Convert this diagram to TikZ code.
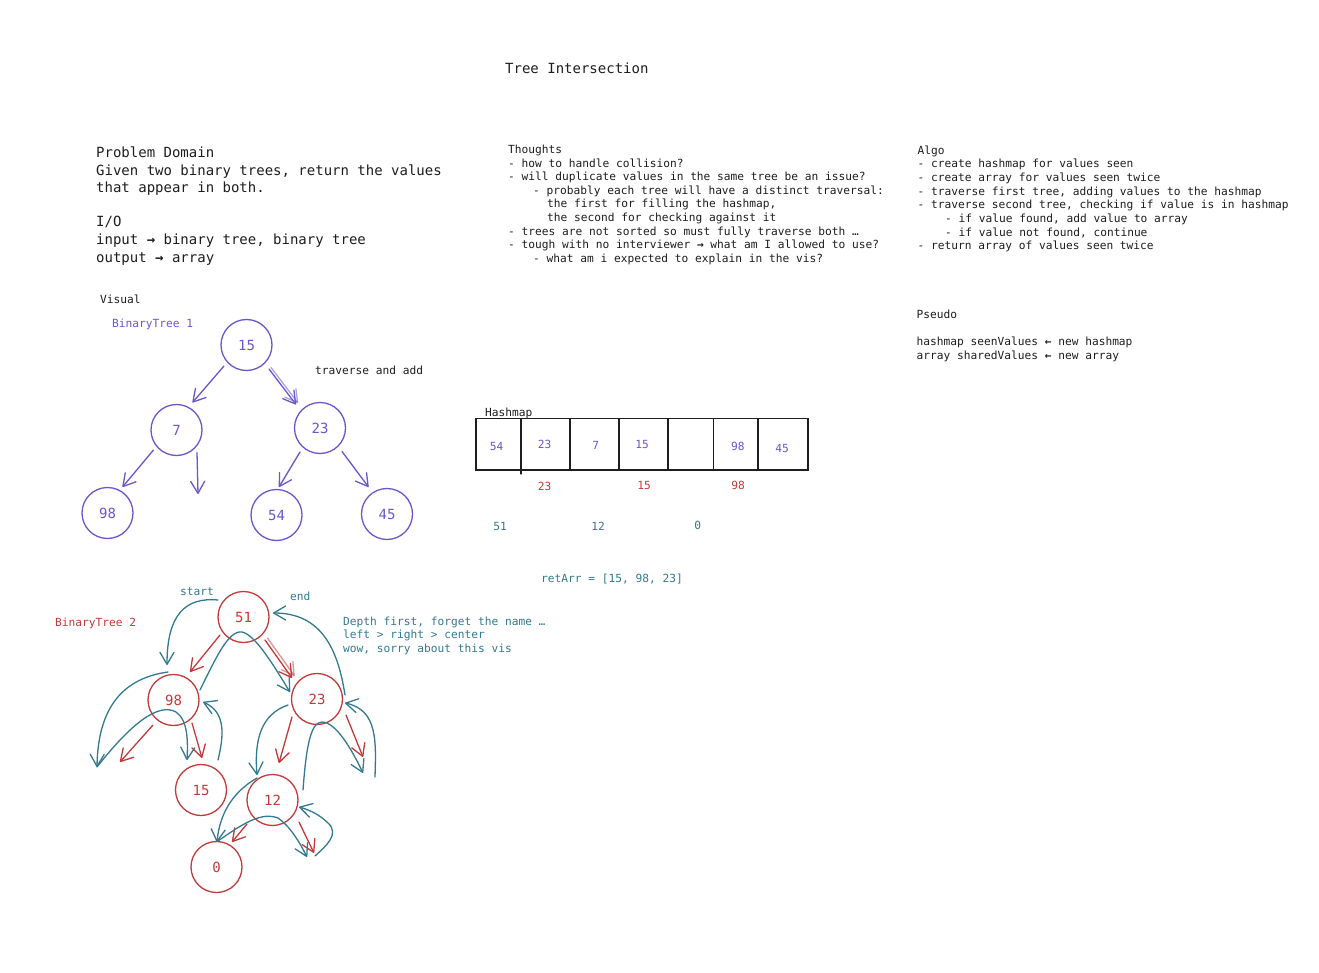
\documentclass[tikz,border=0pt]{standalone}
\usepackage{fontspec}
\setmainfont{DejaVu Sans Mono}
\usetikzlibrary{arrows.meta,calc}
\definecolor{pur}{RGB}{104,88,206}
\definecolor{rd}{RGB}{196,58,58}
\definecolor{tl}{RGB}{52,122,142}
\definecolor{ink}{RGB}{30,30,30}
\begin{document}
\begin{tikzpicture}[x=1pt,y=-1pt,
  tL/.style={anchor=base west,inner sep=0,font=\fontsize{14}{17}\selectfont,text=ink},
  tS/.style={anchor=base west,inner sep=0,font=\fontsize{11.2}{13.6}\selectfont,text=ink},
  num/.style={anchor=center,inner sep=0,font=\fontsize{11.2}{13.6}\selectfont},
  tnode/.style={circle,draw=#1,text=#1,line width=1.3pt,minimum size=51pt,inner sep=0,font=\fontsize{14}{17}\selectfont},
  barb/.style={-{Straight Barb[length=12pt,width=14pt,round]},line width=1.3pt,line cap=round,line join=round},
  parr/.style={barb,draw=pur},
  rarr/.style={barb,draw=rd},
  tarr/.style={barb,draw=tl},
  box/.style={draw=ink,line width=1.3pt,line cap=round}
]
\fill[white] (0,0) rectangle (1319,973);
\useasboundingbox (0,0) rectangle (1319,973);

% ---- title and text blocks
\node[tL] (title) at (505,74) {Tree Intersection};

\node[tL] (pd1) at (96,158) {Problem Domain};
\node[tL] (pd2) at (96,176) {Given two binary trees, return the values};
\node[tL] (pd3) at (96,193) {that appear in both.};
\node[tL] (pd4) at (96,227) {I/O};
\node[tL] (pd5) at (96,245) {input {\bfseries →} binary tree, binary tree};
\node[tL] (pd6) at (96,263) {output {\bfseries →} array};

\node[tS] (th0) at (508,153.5) {Thoughts};
\node[tS] (th1) at (508,167.1) {- how to handle collision?};
\node[tS] (th2) at (508,180.7) {- will duplicate values in the same tree be an issue?};
\node[tS] (th3) at (533,194.3) {- probably each tree will have a distinct traversal:};
\node[tS] (th4) at (547,207.9) {the first for filling the hashmap,};
\node[tS] (th5) at (547,221.5) {the second for checking against it};
\node[tS] (th6) at (508,235.1) {- trees are not sorted so must fully traverse both …};
\node[tS] (th7) at (508,248.7) {- tough with no interviewer {\bfseries →} what am I allowed to use?};
\node[tS] (th8) at (533,262.3) {- what am i expected to explain in the vis?};

\node[tS] (al0) at (917.5,154.2) {Algo};
\node[tS] (al1) at (917.5,167.85) {- create hashmap for values seen};
\node[tS] (al2) at (917.5,181.5) {- create array for values seen twice};
\node[tS] (al3) at (917.5,195.15) {- traverse first tree, adding values to the hashmap};
\node[tS] (al4) at (917.5,208.8) {- traverse second tree, checking if value is in hashmap};
\node[tS] (al5) at (945,222.45) {- if value found, add value to array};
\node[tS] (al6) at (945,236.1) {- if value not found, continue};
\node[tS] (al7) at (917.5,249.75) {- return array of values seen twice};

\node[tS] (ps0) at (916.5,318.5) {Pseudo};
\node[tS] (ps1) at (916.5,345.5) {hashmap seenValues {\bfseries ←} new hashmap};
\node[tS] (ps2) at (916.5,359.1) {array sharedValues {\bfseries ←} new array};

% ---- Binary tree 1
\node[tS] (visual) at (100,303.5) {Visual};
\node[tS,text=pur] (bt1) at (112,327) {BinaryTree 1};
\node[tS] (trav) at (315,374.5) {traverse and add};

\node[tnode=pur] (a15) at (246.5,345) {15};
\node[tnode=pur] (a7)  at (176.5,430) {7};
\node[tnode=pur] (a23) at (320,428) {23};
\node[tnode=pur] (a98) at (107.5,513) {98};
\node[tnode=pur] (a54) at (276.5,515) {54};
\node[tnode=pur] (a45) at (387,514) {45};
\coordinate (nP7) at (198,494);

\draw[parr] ($(a15)+(-22.5,21)$) -- ($(a7)+(16,-27.5)$);
\draw[parr] ($(a15)+(22.5,24)$) -- ($(a23)+(-24,-23.5)$);
\draw[parr,opacity=.55] ($(a15)+(24.5,22.5)$) -- ($(a23)+(-22,-25)$);
\draw[parr] ($(a7)+(-23,20)$) -- ($(a98)+(15,-26)$);
\draw[parr] ($(a7)+(20.5,22.5)$) -- (nP7);
\draw[parr] ($(a23)+(-20,24)$) -- ($(a54)+(2.5,-28)$);
\draw[parr] ($(a23)+(22,23.5)$) -- ($(a45)+(-18.5,-27)$);

% ---- Hashmap
\node[tS] (hmlabel) at (485,416) {Hashmap};
\draw[box] (476,418.5) rectangle (808,470);
\draw[box] (521,418.5) -- (521,474);
\draw[box] (570,418.5) -- (570,470);
\draw[box] (619,418.5) -- (619,470);
\draw[box] (668,418.5) -- (668,470);
\draw[box] (713.5,418.5) -- (713.5,470);
\draw[box] (758,418.5) -- (758,470);

\node[num,text=pur] (h54) at (496.7,446) {54};
\node[num,text=pur] (h23) at (544.5,444.3) {23};
\node[num,text=pur] (h7)  at (595.7,445) {7};
\node[num,text=pur] (h15) at (642,444.3) {15};
\node[num,text=pur] (h98) at (737.8,446.7) {98};
\node[num,text=pur] (h45) at (782,448.3) {45};

\node[num,text=rd] (r23) at (544.5,486) {23};
\node[num,text=rd] (r15) at (644,485) {15};
\node[num,text=rd] (r98) at (738,485.7) {98};

\node[num,text=tl] (t51) at (500,526.7) {51};
\node[num,text=tl] (t12) at (598,526.7) {12};
\node[num,text=tl] (t0)  at (697.8,525.7) {0};

\node[tS,text=tl] (retarr) at (541,582.5) {retArr = [15, 98, 23]};

% ---- Binary tree 2
\node[tS,text=rd] (bt2) at (55,626) {BinaryTree 2};
\node[tS,text=tl] (lstart) at (180,595) {start};
\node[tS,text=tl] (lend) at (290,600.5) {end};
\node[tS,text=tl] (dp1) at (343,625) {Depth first, forget the name …};
\node[tS,text=tl] (dp2) at (343,638.5) {left > right > center};
\node[tS,text=tl] (dp3) at (343,652.3) {wow, sorry about this vis};

\node[tnode=rd] (b51) at (243.5,617) {51};
\node[tnode=rd] (b98) at (173.5,700) {98};
\node[tnode=rd] (b23) at (317,699) {23};
\node[tnode=rd] (b15) at (201,790) {15};
\node[tnode=rd] (b12) at (272.5,800) {12};
\node[tnode=rd] (b0)  at (216.5,867) {0};

\coordinate (nR98) at (120,762);
\coordinate (nR23) at (363,757);
\coordinate (nR12) at (314,853);
\coordinate (nT98) at (97,767);
\coordinate (nT12) at (307,857);
\coordinate (nT12b) at (315,856);
\coordinate (nT23) at (363,773);
\coordinate (nT23b) at (375,777);

% red child arrows
\draw[rarr] ($(b51)+(-23.5,18)$) -- ($(b98)+(16.5,-28)$);
\draw[rarr] ($(b51)+(21.5,23)$) -- ($(b23)+(-25,-21)$);
\draw[rarr,opacity=.55] ($(b51)+(24,21)$) -- ($(b23)+(-22.5,-23)$);
\draw[rarr] ($(b98)+(-20.5,25)$) -- (nR98);
\draw[rarr] ($(b98)+(18.5,23)$) -- ($(b15)+(1,-32)$);
\draw[rarr] ($(b23)+(-25,18)$) -- ($(b12)+(6.5,-37)$);
\draw[rarr] ($(b23)+(29,16)$) -- (nR23);
\draw[rarr] ($(b12)+(-25.5,24)$) -- ($(b0)+(15.5,-25)$);
\draw[rarr] ($(b12)+(26.5,22)$) -- (nR12);

% teal traversal
\draw[tarr] ($(b51)+(-25.5,-17)$) .. controls (185,597) and (167,615) .. ($(b98)+(-6.5,-35)$);
\draw[tarr] ($(b98)+(-5.5,-28)$) .. controls (125,678) and (98,705) .. (nT98);
\draw[tarr] (nT98) .. controls (130,725) and (158,702) .. (176,712) .. controls (188,720) and (188,742) .. ($(b15)+(-14,-30)$);
\draw[tarr] ($(b15)+(17,-30)$) .. controls (224,735) and (226,712) .. ($(b98)+(29.5,2)$);
\draw[tarr] ($(b98)+(26.5,-10)$) .. controls (215,660) and (228,630) .. (242,632) .. controls (256,635) and (275,668) .. ($(b23)+(-27,-7)$);
\draw[tarr] ($(b23)+(-29,6)$) .. controls (262,714) and (254,738) .. ($(b12)+(-15.5,-25)$);
\draw[tarr] ($(b12)+(-15.5,-22)$) .. controls (236,790) and (220,810) .. ($(b0)+(0.5,-25)$);
\draw[tarr] ($(b0)+(1.5,-26)$) .. controls (245,822) and (262,812) .. (278,818) .. controls (290,826) and (300,843) .. (nT12);
\draw[tarr] (nT12b) .. controls (326,846) and (340,834) .. (328,823) .. controls (320,815) and (310,810) .. ($(b12)+(26.5,7)$);
\draw[tarr] ($(b12)+(30.5,-10)$) .. controls (306,750) and (310,722) .. (322,722) .. controls (336,722) and (352,750) .. (nT23);
\draw[tarr] (nT23b) .. controls (376,742) and (378,710) .. ($(b23)+(28,4)$);
\draw[tarr] ($(b23)+(28,-4)$) .. controls (338,650) and (322,613) .. ($(b51)+(29.5,-4)$);
\end{tikzpicture}
\end{document}
